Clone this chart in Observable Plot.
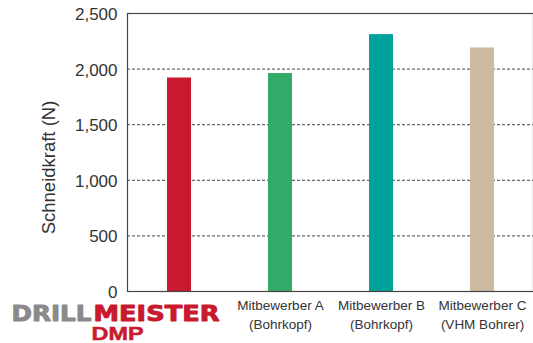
<!DOCTYPE html>
<html>
<head>
<meta charset="utf-8">
<script src="https://cdn.jsdelivr.net/npm/d3@7"></script>
<script src="https://cdn.jsdelivr.net/npm/@observablehq/plot@0.6"></script>
<style>
  html, body { margin: 0; padding: 0; background: #fff; overflow: hidden; }
  #chart svg { display: block; max-width: none !important; }
</style>
</head>
<body>
<div id="chart"></div>
<script>
const categories = ["DRILLMEISTER DMP", "Mitbewerber A (Bohrkopf)", "Mitbewerber B (Bohrkopf)", "Mitbewerber C (VHM Bohrer)"];
const tickLabels = ["", "Mitbewerber A\n(Bohrkopf)", "Mitbewerber B\n(Bohrkopf)", "Mitbewerber C\n(VHM Bohrer)"];
const values = [1920, 1960, 2310, 2190];
const colors = ["#C8192F", "#32AA68", "#00A19A", "#CBBA9E"];
const yTicks = [0, 500, 1000, 1500, 2000, 2500];
const gridTicks = [500, 1000, 1500, 2000];
const yLabel = "Schneidkraft (N)";
const logoParts = ["DRILL", "MEISTER", "DMP"];

const data = categories.map((c, i) => ({category: c, value: values[i], color: colors[i]}));
const labelOf = new Map(categories.map((c, i) => [c, tickLabels[i]]));
const fmt = d3.format(",");

const chart = Plot.plot({
  width: 534,
  height: 343,
  marginTop: 13,
  marginBottom: 52,
  marginLeft: 127,
  marginRight: 1,
  style: {fontFamily: "'Liberation Sans', Arial, sans-serif", color: "#333", background: "#fff"},
  x: {domain: categories, paddingInner: 0.764, paddingOuter: 0.382},
  y: {domain: [0, 2500]},
  marks: [
    Plot.ruleY(gridTicks, {stroke: "#444", strokeDasharray: "3,2", strokeWidth: 1}),
    Plot.barY(data, {x: "category", y: "value", fill: "color"}),
    Plot.frame({stroke: "#444", strokeWidth: 1.2}),
    Plot.axisY({ticks: yTicks, tickFormat: fmt, tickSize: 0, tickPadding: 10, fontSize: 17, label: null, fill: "#333", dy: 1}),
    Plot.axisX({tickSize: 0, tickPadding: 5, fontSize: 13.5, lineHeight: 1.4, tickFormat: d => labelOf.get(d), label: null, fill: "#333"}),
    Plot.text([yLabel], {text: d => d, frameAnchor: "left", textAnchor: "middle", rotate: -90, dx: -78, dy: 15, fontSize: 18.5, fill: "#333"}),
    Plot.text([categories[0]], {x: d => d, text: () => logoParts[0], frameAnchor: "bottom", textAnchor: "end", lineAnchor: "bottom", dx: -88, dy: 29, fontSize: 20.5, fontWeight: "bold", fill: "#8a8a8a", stroke: "#8a8a8a", strokeWidth: 0.9, fontFamily: "'DejaVu Sans', sans-serif"}),
    Plot.text([categories[0]], {x: d => d, text: () => logoParts[1], frameAnchor: "bottom", textAnchor: "start", lineAnchor: "bottom", dx: -86, dy: 29, fontSize: 20.5, fontWeight: "bold", fill: "#C8192F", stroke: "#C8192F", strokeWidth: 0.9, fontFamily: "'DejaVu Sans', sans-serif"}),
    Plot.text([categories[0]], {x: d => d, text: () => logoParts[2], frameAnchor: "bottom", textAnchor: "middle", lineAnchor: "bottom", dx: -62, dy: 48.5, fontSize: 18.5, fontWeight: "bold", fill: "#C8192F", stroke: "#C8192F", strokeWidth: 0.5})
  ]
});

const stretch = {"DRILL": 80, "MEISTER": 126, "DMP": 52};
d3.select(chart).selectAll("text").each(function() {
  const t = this.textContent;
  if (stretch[t]) d3.select(this).attr("textLength", stretch[t]).attr("lengthAdjust", "spacingAndGlyphs");
});

document.getElementById("chart").appendChild(chart);
</script>
</body>
</html>
